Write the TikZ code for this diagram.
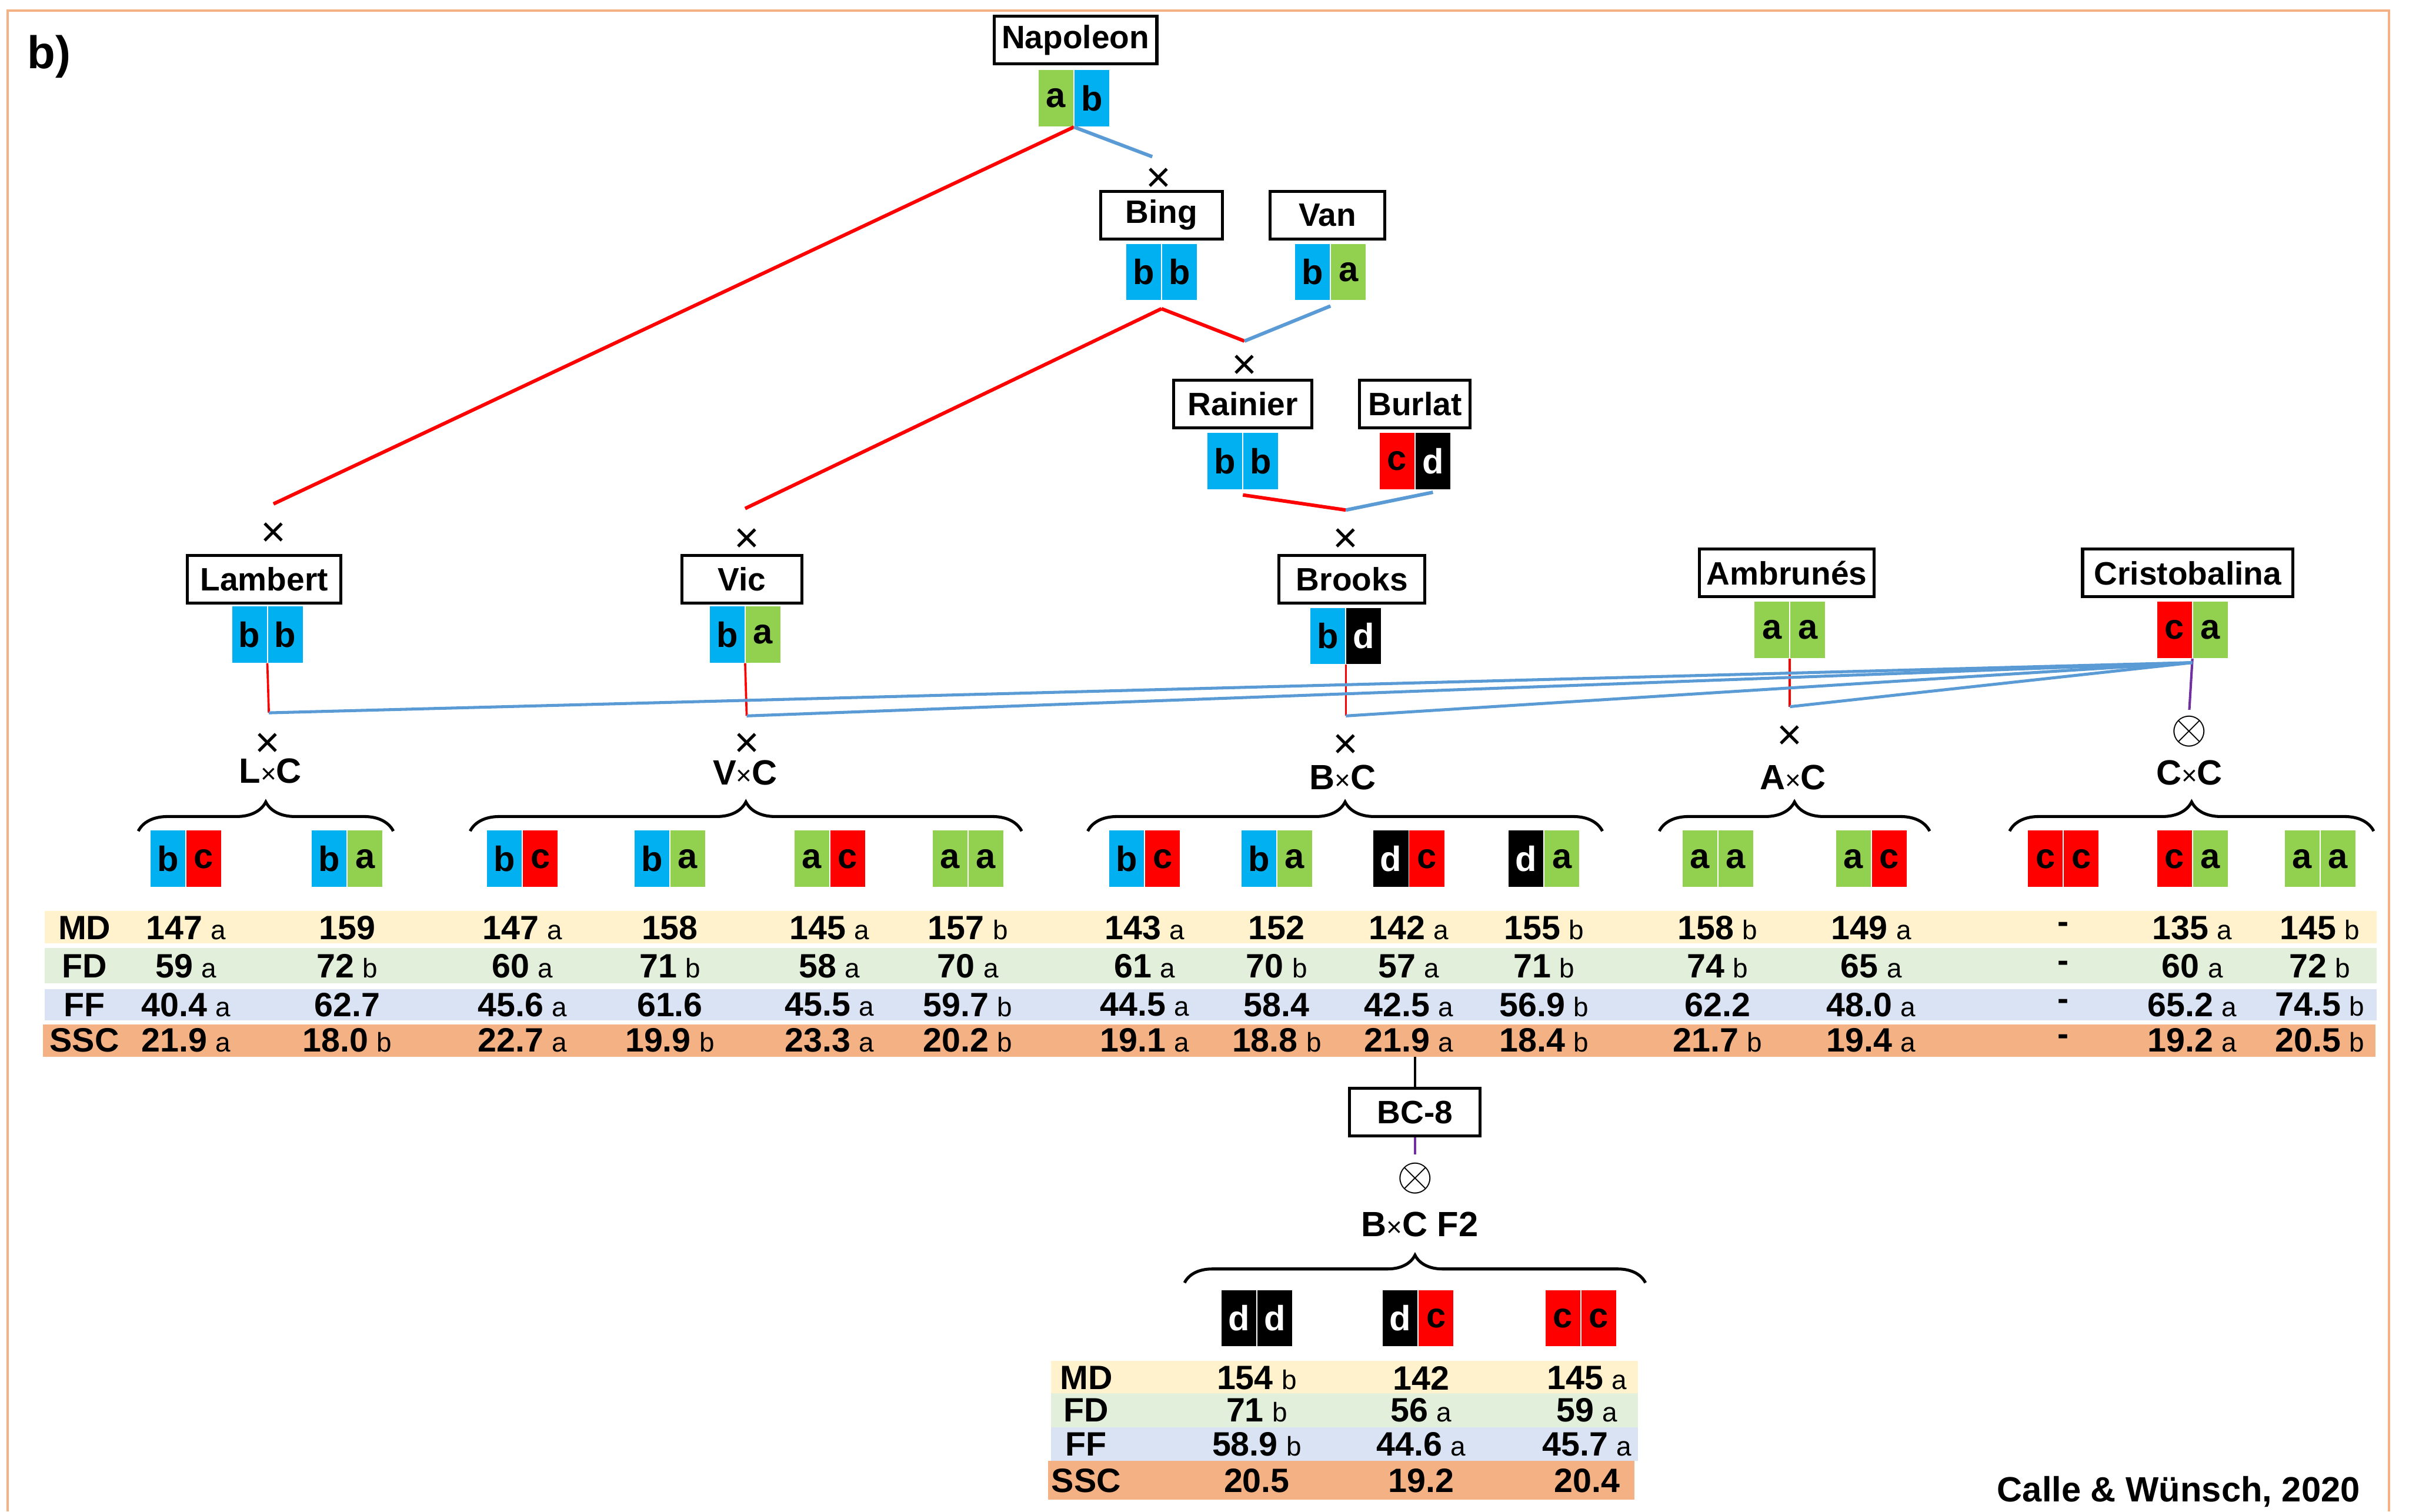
\documentclass[tikz,border=0pt]{standalone}
\usepackage{fontspec}
\setmainfont{Liberation Sans}
\usetikzlibrary{decorations.pathreplacing}
\definecolor{alA}{HTML}{92D050}
\definecolor{alB}{HTML}{00B0F0}
\definecolor{alC}{HTML}{FF0000}
\definecolor{lineblue}{HTML}{5B9BD5}
\definecolor{selfpurple}{HTML}{7030A0}
\definecolor{frameorange}{HTML}{F4B183}
\definecolor{rowMD}{HTML}{FFF2CC}
\definecolor{rowFD}{HTML}{E2EFDA}
\definecolor{rowFF}{HTML}{DAE3F3}
\definecolor{rowSSC}{HTML}{F4B183}
\newcommand\val[2]{#1\hspace{0.25em}{\mdseries\fontsize{10}{12}\selectfont #2}}
\newcommand\hyb[2]{#1{\mdseries\fontsize{10}{12}\selectfont ×}#2}
\newcommand\geno[4]{%
  \node[allele, al #3, anchor=east] (#1-l) at (#2) {#3};
  \node[allele, al #4, anchor=west] (#1-r) at (#2) {#4};}
\begin{document}
\begin{tikzpicture}[x=0.02cm, y=-0.02cm,
  every node/.style={font=\bfseries\fontsize{12}{14}\selectfont},
  cv/.style={draw, line width=1.1pt, minimum height=0.62cm, inner xsep=2pt, inner ysep=0pt},
  allele/.style={minimum width=0.46cm, minimum height=0.74cm, inner sep=0pt,
    draw=white, line width=0.2pt, font=\bfseries\fontsize{13}{15}\selectfont},
  al a/.style={fill=alA}, al b/.style={fill=alB}, al c/.style={fill=alC},
  al d/.style={fill=black, text=white},
  cross/.style={font=\fontsize{16}{18}\selectfont, inner sep=0pt},
  selfing/.style={font=\fontsize{16}{18}\selectfont, inner sep=0pt},
  hybrid/.style={font=\bfseries\fontsize{13}{15}\selectfont},
  cell/.style={font=\bfseries\fontsize{12.5}{14}\selectfont, inner sep=0pt},
  redline/.style={alC, line width=1.3pt}, blueline/.style={lineblue, line width=1.3pt},
  redstem/.style={alC, line width=0.8pt}, purplestem/.style={selfpurple, line width=0.9pt},
  fan/.style={lineblue, line width=1.1pt},
  offspring/.style={decorate, decoration={brace, amplitude=#1}, line width=1.1pt}
  ]
  \useasboundingbox (0,0) rectangle (1568,984);
  \draw[frameorange, line width=0.8pt] (5,984) -- (5,7) -- (1555,7) -- (1555,984);
  \node[font=\bfseries\fontsize{17}{20}\selectfont] (panel) at (32,37) {b)};

  % parents
  \node[cv, minimum width=2.12cm] (nap) at (700,26) {Napoleon};
  \node[cv, minimum width=1.58cm] (bing) at (756,140) {Bing};
  \node[cv, minimum width=1.50cm] (van) at (864,140) {Van};
  \node[cv, minimum width=1.80cm] (rai) at (809,263) {Rainier};
  \node[cv, minimum width=1.44cm] (bur) at (921,263) {Burlat};
  \node[cv, minimum width=2.00cm] (lam) at (172,377) {Lambert};
  \node[cv, minimum width=1.56cm] (vic) at (483,377) {Vic};
  \node[cv, minimum width=1.90cm] (bro) at (880,377) {Brooks};
  \node[cv, minimum width=2.28cm] (amb) at (1163,373) {Ambrunés};
  \node[cv, minimum width=2.74cm] (cri) at (1424,373) {Cristobalina};
  \node[cv, minimum width=1.70cm] (bc8) at (921,724) {BC-8};

  \geno{napg}{699,64}{a}{b}
  \geno{bingg}{756,177}{b}{b}
  \geno{vang}{866,177}{b}{a}
  \geno{raig}{809,300}{b}{b}
  \geno{burg}{921,300}{c}{d}
  \geno{lamg}{174,413}{b}{b}
  \geno{vicg}{485,413}{b}{a}
  \geno{brog}{876,414}{b}{d}
  \geno{ambg}{1165,410}{a}{a}
  \geno{crig}{1427,410}{c}{a}

  \node[cross] (x1) at (754,117) {×};
  \node[cross] (x2) at (810,239) {×};
  \node[cross] (x3) at (876,352) {×};
  \node[cross] (xlam) at (178,348) {×};
  \node[cross] (xvic) at (486,352) {×};
  \node[cross] (xLC) at (174,485) {×};
  \node[cross] (xVC) at (486,485) {×};
  \node[cross] (xBC) at (876,486) {×};
  \node[cross] (xAC) at (1165,480) {×};
  \node[selfing] (sCC) at (1425,476) {$\otimes$};
  \node[selfing] (sF2) at (921,767) {$\otimes$};

  \coordinate (jlam) at (178,328);
  \coordinate (jnb) at (750,102);
  \coordinate (jvic) at (485,331);
  \coordinate (jbv) at (810,222);
  \coordinate (jrb) at (876,332);
  \coordinate (jLC) at (175,464);
  \coordinate (jVC) at (486,466);
  \coordinate (jBC) at (876,466);
  \coordinate (jAC) at (1165,460);
  \coordinate (jCC) at (1425,462);
  \coordinate (jtab) at (921,688);

  \draw[redline] (napg-l.south east) -- (jlam);
  \draw[blueline] (napg-l.south east) -- (jnb);
  \draw[redline] ([yshift=-3pt]bingg-l.south east) -- (jvic);
  \draw[redline] ([yshift=-3pt]bingg-l.south east) -- (jbv);
  \draw[blueline] ([yshift=-2pt]vang-l.south east) -- (jbv);
  \draw[redline] ([yshift=-2pt]raig-l.south east) -- (jrb);
  \draw[blueline] ([yshift=-1pt]burg-r.south) -- (jrb);
  \draw[redstem] (lamg-l.south east) -- (jLC);
  \draw[redstem] (vicg-l.south east) -- (jVC);
  \draw[redstem] (brog-l.south east) -- (jBC);
  \draw[redstem] (ambg-l.south east) -- (jAC);
  \draw[purplestem] (crig-l.south east) -- (jCC);
  \foreach \j in {jLC,jVC,jBC,jAC}
    \draw[fan] ([yshift=-1.5pt]crig-l.south east) -- (\j);
  \draw[line width=1pt] (jtab) -- (bc8.north);
  \draw[purplestem] (bc8.south) -- ([yshift=3pt]sF2.north);

  % crosses and offspring
  \node[hybrid] (LC) at (176,502) {\hyb{L}{C}};
  \node[hybrid] (VC) at (485,503) {\hyb{V}{C}};
  \node[hybrid] (BC) at (874,506) {\hyb{B}{C}};
  \node[hybrid] (AC) at (1167,506) {\hyb{A}{C}};
  \node[hybrid] (CC) at (1425,503) {\hyb{C}{C}};
  \node[hybrid] (F2) at (924,797) {\hyb{B}{C} F2};

  \draw[offspring=0.38cm] (90,541) -- (256,541);
  \draw[offspring=0.38cm] (306,541) -- (665,541);
  \draw[offspring=0.38cm] (708,541) -- (1043,541);
  \draw[offspring=0.38cm] (1080,541) -- (1256,541);
  \draw[offspring=0.38cm] (1308,541) -- (1545,541);
  \draw[offspring=0.36cm] (771,835) -- (1071,835);

  \geno{lc1}{121,559}{b}{c}
  \geno{lc2}{226,559}{b}{a}
  \geno{vc1}{340,559}{b}{c}
  \geno{vc2}{436,559}{b}{a}
  \geno{vc3}{540,559}{a}{c}
  \geno{vc4}{630,559}{a}{a}
  \geno{bc1}{745,559}{b}{c}
  \geno{bc2}{831,559}{b}{a}
  \geno{bc3}{917,559}{d}{c}
  \geno{bc4}{1005,559}{d}{a}
  \geno{ac1}{1118,559}{a}{a}
  \geno{ac2}{1218,559}{a}{c}
  \geno{cc1}{1343,559}{c}{c}
  \geno{cc2}{1427,559}{c}{a}
  \geno{cc3}{1510,559}{a}{a}
  \geno{f21}{818,858}{d}{d}
  \geno{f22}{923,858}{d}{c}
  \geno{f23}{1029,858}{c}{c}

  % trait tables
  \fill[rowMD] (29,593) rectangle (1547,614);
  \fill[rowFD] (29,617) rectangle (1547,640);
  \fill[rowFF] (29,644) rectangle (1547,664);
  \fill[rowSSC] (28,667) rectangle (1546,688);
  \fill[rowMD] (684,886) rectangle (1066,907);
  \fill[rowFD] (684,907) rectangle (1066,929);
  \fill[rowFF] (684,929) rectangle (1066,951);
  \fill[rowSSC] (682,951) rectangle (1064,976);
  \foreach \y/\lab in {604/MD,629/FD,654/FF,677/SSC}
    \node[cell] (t1\lab) at (55,\y) {\lab};
  \foreach \y/\lab in {897/MD,918/FD,940/FF,964/SSC}
    \node[cell] (t2\lab) at (707,\y) {\lab};
  \foreach \x/\vmd/\vfd/\vff/\vssc in {
    121/\val{147}{a}/\val{59}{a}/\val{40.4}{a}/\val{21.9}{a},
    226/159/\val{72}{b}/62.7/\val{18.0}{b},
    340/\val{147}{a}/\val{60}{a}/\val{45.6}{a}/\val{22.7}{a},
    436/158/\val{71}{b}/61.6/\val{19.9}{b},
    540/\val{145}{a}/\val{58}{a}/\val{45.5}{a}/\val{23.3}{a},
    630/\val{157}{b}/\val{70}{a}/\val{59.7}{b}/\val{20.2}{b},
    745/\val{143}{a}/\val{61}{a}/\val{44.5}{a}/\val{19.1}{a},
    831/152/\val{70}{b}/58.4/\val{18.8}{b},
    917/\val{142}{a}/\val{57}{a}/\val{42.5}{a}/\val{21.9}{a},
    1005/\val{155}{b}/\val{71}{b}/\val{56.9}{b}/\val{18.4}{b},
    1118/\val{158}{b}/\val{74}{b}/62.2/\val{21.7}{b},
    1218/\val{149}{a}/\val{65}{a}/\val{48.0}{a}/\val{19.4}{a},
    1343/-/-/-/-,
    1427/\val{135}{a}/\val{60}{a}/\val{65.2}{a}/\val{19.2}{a},
    1510/\val{145}{b}/\val{72}{b}/\val{74.5}{b}/\val{20.5}{b}}{
    \node[cell] (md\x) at (\x,604) {\vmd};
    \node[cell] (fd\x) at (\x,629) {\vfd};
    \node[cell] (ff\x) at (\x,654) {\vff};
    \node[cell] (ssc\x) at (\x,677) {\vssc};
  }
  \foreach \x/\vmd/\vfd/\vff/\vssc in {
    818/\val{154}{b}/\val{71}{b}/\val{58.9}{b}/20.5,
    925/142/\val{56}{a}/\val{44.6}{a}/19.2,
    1033/\val{145}{a}/\val{59}{a}/\val{45.7}{a}/20.4}{
    \node[cell] (fmd\x) at (\x,897) {\vmd};
    \node[cell] (ffd\x) at (\x,918) {\vfd};
    \node[cell] (fff\x) at (\x,940) {\vff};
    \node[cell] (fssc\x) at (\x,964) {\vssc};
  }

  \node[font=\bfseries\fontsize{13}{15}\selectfont] (credit) at (1418,971) {Calle \& Wünsch, 2020};
\end{tikzpicture}
\end{document}
